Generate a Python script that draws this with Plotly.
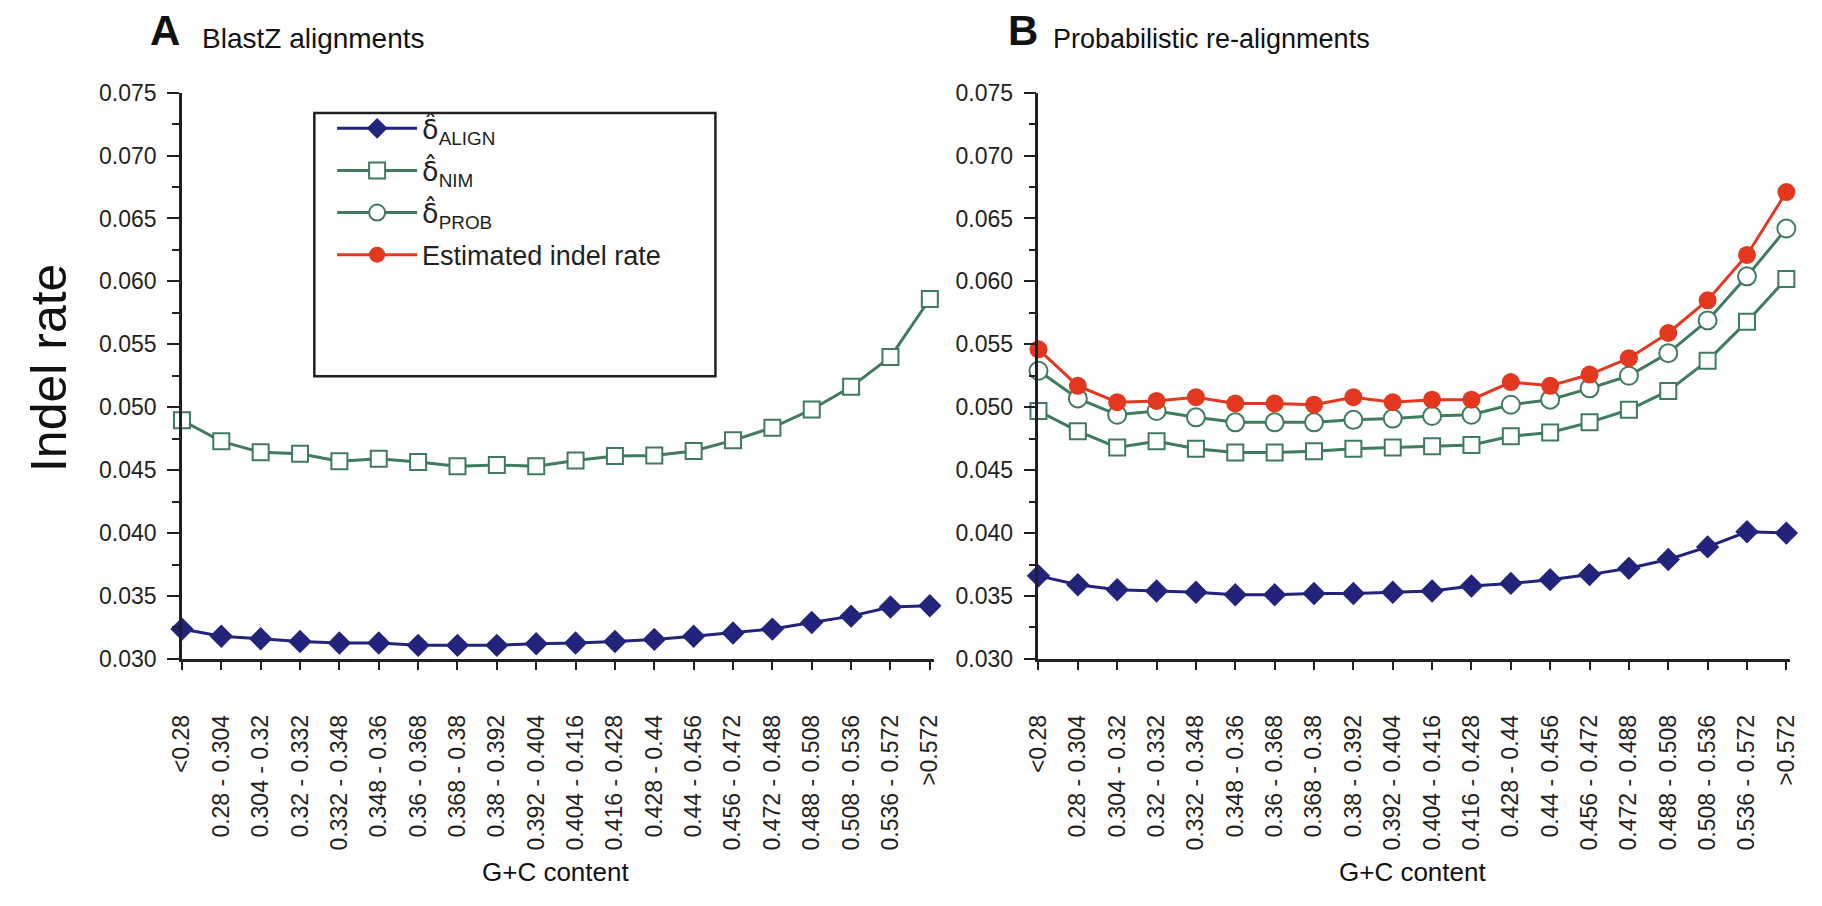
import plotly.graph_objects as go

W, H = 1822, 906

categories = ["<0.28", "0.28 - 0.304", "0.304 - 0.32", "0.32 - 0.332", "0.332 - 0.348",
              "0.348 - 0.36", "0.36 - 0.368", "0.368 - 0.38", "0.38 - 0.392", "0.392 - 0.404",
              "0.404 - 0.416", "0.416 - 0.428", "0.428 - 0.44", "0.44 - 0.456", "0.456 - 0.472",
              "0.472 - 0.488", "0.488 - 0.508", "0.508 - 0.536", "0.536 - 0.572", ">0.572"]

a_align = [0.03237, 0.03180, 0.03160, 0.03139, 0.03126, 0.03126, 0.03108, 0.03108, 0.03108, 0.03121,
           0.03126, 0.03139, 0.03155, 0.03180, 0.03206, 0.03237, 0.03289, 0.03340, 0.03412, 0.03423]
a_nim = [0.04897, 0.04729, 0.04642, 0.04631, 0.04570, 0.04590, 0.04564, 0.04531, 0.04541, 0.04531,
         0.04577, 0.04613, 0.04616, 0.04652, 0.04737, 0.04838, 0.04982, 0.05162, 0.05400, 0.05860]

b_align = [0.0366, 0.0359, 0.0355, 0.0354, 0.0353, 0.0351, 0.0351, 0.0352, 0.0352, 0.0353,
           0.0354, 0.0358, 0.0360, 0.0363, 0.0367, 0.0372, 0.0379, 0.0389, 0.0401, 0.0400]
b_nim = [0.0497, 0.0481, 0.0468, 0.0473, 0.0467, 0.0464, 0.0464, 0.0465, 0.0467, 0.0468,
         0.0469, 0.0470, 0.0477, 0.0480, 0.0488, 0.0498, 0.0513, 0.0537, 0.0568, 0.0602]
b_prob = [0.0529, 0.0507, 0.0494, 0.0497, 0.0492, 0.0488, 0.0488, 0.0488, 0.0490, 0.0491,
          0.0493, 0.0494, 0.0502, 0.0506, 0.0515, 0.0525, 0.0543, 0.0569, 0.0604, 0.0642]
b_est = [0.0546, 0.0517, 0.0504, 0.0505, 0.0508, 0.0503, 0.0503, 0.0502, 0.0508, 0.0504,
         0.0506, 0.0506, 0.0520, 0.0517, 0.0526, 0.0539, 0.0559, 0.0585, 0.0621, 0.0671]

HAT = '<span style="font-family:DejaVu Sans">δ\u0302</span>'
names = {
    "align": HAT + "<sub>ALIGN</sub>",
    "nim": HAT + "<sub>NIM</sub>",
    "prob": HAT + "<sub>PROB</sub>",
    "est": "Estimated indel rate",
}

NAVY = "#22237a"
GREEN = "#3e7b5f"
RED = "#e2381f"
INK = "#231f20"
FONT = "Liberation Sans, Arial, sans-serif"


def px(x):
    return x / W


def py(y):
    return 1 - y / H


styles = {
    "align": dict(line=dict(color=NAVY, width=3),
                  marker=dict(symbol="diamond", size=18, color=NAVY, line=dict(width=0))),
    "nim": dict(line=dict(color=GREEN, width=3),
                marker=dict(symbol="square", size=16, color="white", line=dict(color=GREEN, width=2))),
    "prob": dict(line=dict(color=GREEN, width=3),
                 marker=dict(symbol="circle", size=18, color="white", line=dict(color=GREEN, width=2))),
    "est": dict(line=dict(color=RED, width=3),
                marker=dict(symbol="circle", size=18, color=RED, line=dict(width=0))),
}
rank = {"align": 1, "nim": 2, "prob": 3, "est": 4}

fig = go.Figure()


def add(key, ys, xa, ya, show):
    fig.add_trace(go.Scatter(
        x=categories, y=ys, mode="lines+markers", name=names[key],
        xaxis=xa, yaxis=ya, cliponaxis=False, showlegend=show,
        legendgroup=key, legendrank=rank[key], **styles[key]))


add("nim", a_nim, "x", "y", True)
add("align", a_align, "x", "y", True)
add("nim", b_nim, "x2", "y2", False)
add("prob", b_prob, "x2", "y2", True)
add("est", b_est, "x2", "y2", True)
add("align", b_align, "x2", "y2", False)

ydom = [py(665), py(82)]

xcommon = dict(type="category", range=[0, 19.1], showline=True, linewidth=2.5, linecolor=INK,
               ticks="outside", ticklen=8, tickwidth=2, tickcolor=INK, tickangle=-90,
               tickfont=dict(family=FONT, size=23, color=INK), ticklabelstandoff=36,
               showgrid=False, zeroline=False)
ycommon = dict(range=[0.030, 0.075], dtick=0.005, tickformat=".3f", showline=True, linewidth=2.5,
               linecolor=INK, ticks="outside", ticklen=12, tickwidth=2, tickcolor=INK,
               minor=dict(dtick=0.0025, ticks="outside", ticklen=7, tickwidth=2, tickcolor=INK),
               tickfont=dict(family=FONT, size=23, color=INK), ticklabelstandoff=6,
               showgrid=False, zeroline=False, domain=ydom)

fig.update_layout(
    width=W, height=H, autosize=False,
    margin=dict(l=0, r=0, t=0, b=0),
    paper_bgcolor="white", plot_bgcolor="rgba(0,0,0,0)",
    xaxis=dict(domain=[px(170), px(931)], anchor="y", **xcommon),
    yaxis=dict(anchor="x", **ycommon),
    xaxis2=dict(domain=[px(1037), px(1798)], anchor="y2", **xcommon),
    yaxis2=dict(anchor="x2", **ycommon),
    showlegend=True,
    legend=dict(x=px(322), y=py(94), xanchor="left", yanchor="top",
                bgcolor="rgba(0,0,0,0)", borderwidth=0,
                font=dict(family=FONT, size=27, color=INK),
                traceorder="grouped", tracegroupgap=4, itemwidth=80,
                itemclick=False),
    shapes=[dict(type="rect", xref="paper", yref="paper",
                 x0=px(304), x1=px(710), y0=py(374), y1=py(103),
                 line=dict(color=INK, width=2.5), fillcolor="rgba(0,0,0,0)", layer="below")],
)

ann = [
    dict(text="<b>A</b>", x=px(136), y=py(44), xanchor="left", yanchor="bottom", size=42),
    dict(text="BlastZ alignments", x=px(188), y=py(44), xanchor="left", yanchor="bottom", size=28),
    dict(text="<b>B</b>", x=px(1004), y=py(44), xanchor="left", yanchor="bottom", size=42),
    dict(text="Probabilistic re-alignments", x=px(1050), y=py(44), xanchor="left", yanchor="bottom", size=27),
    dict(text="G+C content", x=px(548), y=py(884), xanchor="center", yanchor="middle", size=26),
    dict(text="G+C content", x=px(1416), y=py(884), xanchor="center", yanchor="middle", size=26),
]
annotations = []
for a in ann:
    annotations.append(dict(text=a["text"], x=a["x"], y=a["y"], xref="paper", yref="paper",
                            xanchor=a["xanchor"], yanchor=a["yanchor"], showarrow=False,
                            font=dict(family=FONT, size=a["size"], color="#111111")))
annotations.append(dict(text="Indel rate", x=px(36), y=py(366), xref="paper", yref="paper",
                        xanchor="center", yanchor="middle", showarrow=False, textangle=-90,
                        font=dict(family=FONT, size=50, color="#111111")))
fig.update_layout(annotations=annotations)

fig.write_html("out.html")
